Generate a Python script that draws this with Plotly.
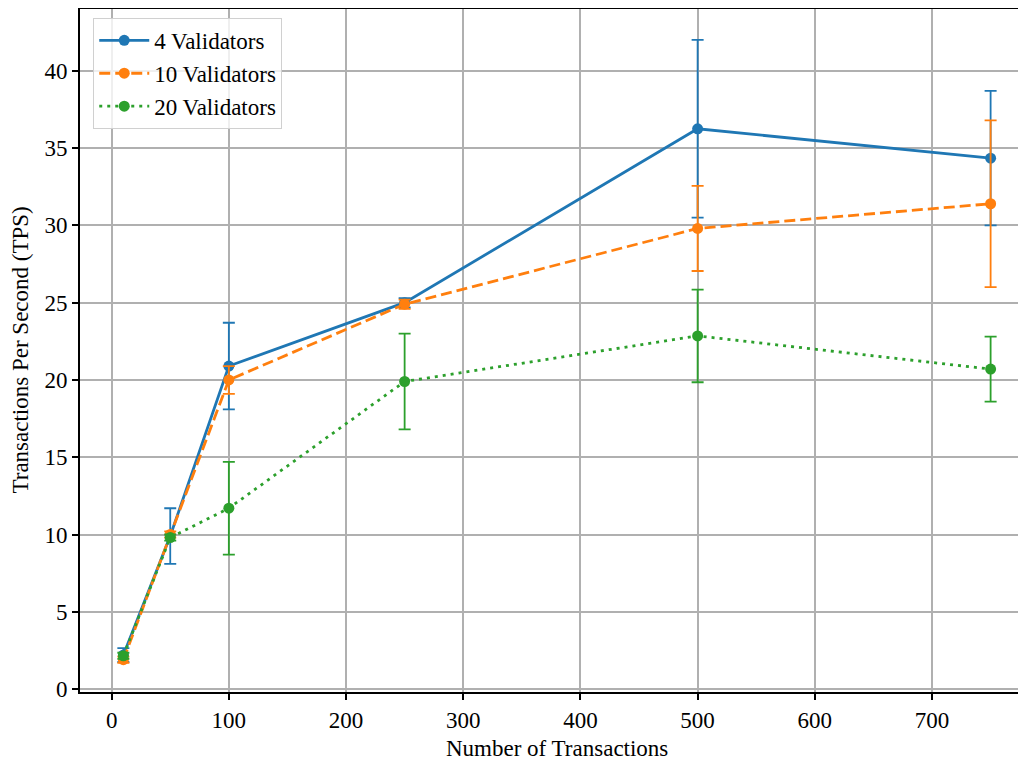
import plotly.graph_objects as go

x_vals = [10, 50, 100, 250, 500, 750]

tps_4 = [2.2, 9.9, 20.9, 25.0, 36.25, 34.35]
err_4 = [0.45, 1.8, 2.8, 0.3, 5.75, 4.35]

tps_10 = [1.9, 10.0, 20.0, 24.9, 29.8, 31.4]
err_10 = [0.2, 0.2, 0.9, 0.3, 2.75, 5.4]

tps_20 = [2.15, 9.8, 11.7, 19.9, 22.85, 20.7]
err_20 = [0.2, 0.2, 3.0, 3.1, 3.0, 2.1]

series = [
    ("4 Validators", tps_4, err_4, "#1f77b4", "solid"),
    ("10 Validators", tps_10, err_10, "#ff7f0e", "11px,5px"),
    ("20 Validators", tps_20, err_20, "#2ca02c", "3px,5px"),
]

x_ticks = [0, 100, 200, 300, 400, 500, 600, 700]
y_ticks = [0, 5, 10, 15, 20, 25, 30, 35, 40]

FONT = "Liberation Serif, Times New Roman, serif"
FS = 23

fig = go.Figure()
for name, y, e, color, dash in series:
    fig.add_trace(go.Scatter(
        x=x_vals, y=y, name=name, mode="lines+markers",
        line=dict(color=color, width=2.8, dash=dash),
        marker=dict(color=color, size=11),
        error_y=dict(type="data", array=e, visible=True, color=color,
                     thickness=1.8, width=6),
    ))

fig.update_layout(
    width=1018, height=754,
    margin=dict(l=72, r=0, t=1, b=70),
    paper_bgcolor="white", plot_bgcolor="white",
    font=dict(family=FONT, size=FS, color="black"),
    showlegend=True,
    legend=dict(x=0.014, y=0.987, xanchor="left", yanchor="top",
                bgcolor="rgba(255,255,255,0.8)", bordercolor="#d0d0d0",
                borderwidth=1, font=dict(family=FONT, size=FS),
                itemwidth=50, tracegroupgap=0),
    xaxis=dict(
        range=[-27, 780.2], tickmode="array", tickvals=x_ticks,
        showgrid=True, gridcolor="#b0b0b0", gridwidth=1.6,
        showline=True, linecolor="black", linewidth=2, mirror=True,
        ticks="outside", ticklen=6, tickwidth=1.5, tickcolor="black",
        zeroline=False, automargin=False,
    ),
    yaxis=dict(
        range=[-0.19, 44.0], tickmode="array", tickvals=y_ticks,
        showgrid=True, gridcolor="#b0b0b0", gridwidth=1.6,
        showline=True, linecolor="black", linewidth=2, mirror=False,
        ticks="outside", ticklen=6, tickwidth=1.5, tickcolor="black",
        zeroline=False, automargin=False,
    ),
    annotations=[
        dict(text="Number of Transactions", xref="paper", yref="paper",
             x=0.504, y=-0.082, xanchor="center", yanchor="middle",
             showarrow=False, font=dict(family=FONT, size=FS)),
        dict(text="Transactions Per Second (TPS)", xref="paper", yref="paper",
             x=-0.0634, y=0.5, xanchor="center", yanchor="middle",
             textangle=-90, showarrow=False, font=dict(family=FONT, size=FS)),
    ],
)

fig.write_html("out.html")
